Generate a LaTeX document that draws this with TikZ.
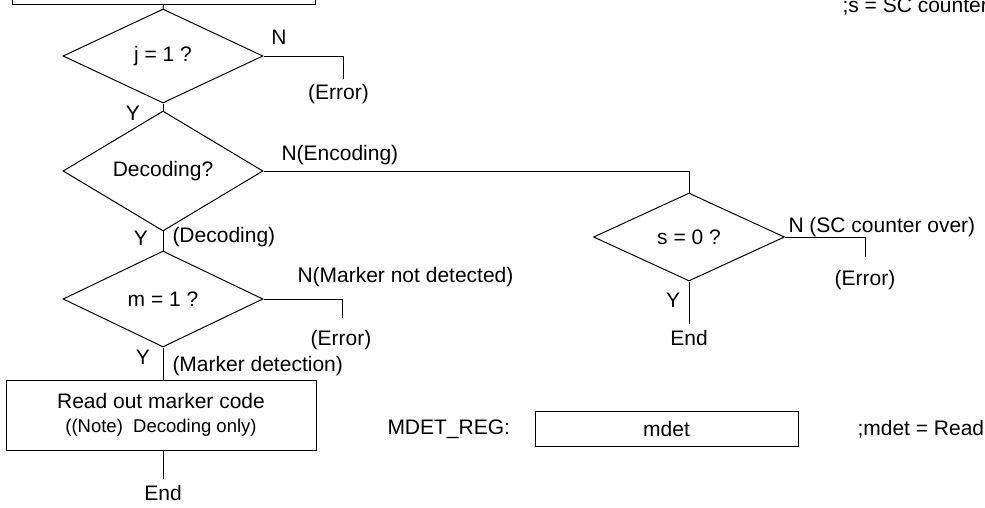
\documentclass[tikz,border=0pt]{standalone}
\usepackage{fontspec}
\setmainfont{Liberation Sans}
\usetikzlibrary{shapes.geometric}
\begin{document}
\begin{tikzpicture}[x=1pt,y=-1pt,line width=1pt,
  lbl/.style={font=\fontsize{21}{23}\selectfont,inner sep=0pt},
  dia/.style={diamond,draw,inner sep=0pt,minimum width=200pt,minimum height=95pt,font=\fontsize{21}{23}\selectfont},
  box/.style={draw,rectangle,inner sep=0pt,font=\fontsize{21}{23}\selectfont}]
\useasboundingbox (0,0) rectangle (985,507);
\clip (0,0) rectangle (985,507);
% top box (cut by top edge)
\node[box,minimum width=303pt,minimum height=40pt] (top) at (163.5,-16) {};
% j = 1 ?
\node[dia,minimum height=94pt] (j1) at (163,56) {j = 1 ?};
\node[lbl] (n1) at (279,37) {N};
\coordinate (e1) at (343,79);
\node[lbl] (err1) at (338.5,94) {(Error)};
\node[lbl] (y1) at (133,113) {Y};
% Decoding?
\node[dia,minimum height=96pt] (dec) at (163,171) {Decoding?};
\node[lbl,anchor=west] (n2) at (281,155) {N(Encoding)};
\node[lbl] (y2) at (141,238) {Y};
\node[lbl,anchor=west] (d2) at (172,237) {(Decoding)};
% m = 1 ?
\node[dia,minimum height=96pt] (m1) at (163,299) {m = 1 ?};
\node[lbl,anchor=west] (n3) at (297,277) {N(Marker not detected)};
\coordinate (e3) at (342,318);
\node[lbl] (err3) at (341,340) {(Error)};
\node[lbl] (y3) at (143,357) {Y};
\node[lbl,anchor=west] (md) at (172,366) {(Marker detection)};
% read out box
\node[box,minimum width=310pt,minimum height=70pt,align=center] (rb) at (161,415)
  {Read out marker code\\[1pt]{\fontsize{18.5}{20}\selectfont ((Note)\ \ Decoding only)}};
\node[lbl] (end1) at (163,493) {End};
% s = 0 ?
\node[dia,minimum width=191pt,minimum height=88pt] (s0) at (689,237) {s = 0 ?};
\node[lbl,anchor=west] (n4) at (788,227) {N (SC counter over)};
\coordinate (e4) at (865,257);
\node[lbl] (err4) at (865,280) {(Error)};
\node[lbl] (y4) at (673,300) {Y};
\node[lbl] (end2) at (689,338) {End};
% register
\node[lbl,anchor=west] (reg) at (387,429) {MDET\_REG:};
\node[box,minimum width=263pt,minimum height=35pt] (mdet) at (666.5,428.5) {mdet};
\node[lbl,anchor=west] (mnote) at (857,429) {;mdet = Read};
\node[lbl,anchor=base west] (snote) at (842,12) {;s = SC counter};
% connectors
\draw (top.south) -- (j1.north);
\draw (j1.east) -| (e1);
\draw (j1.south) -- (dec.north);
\draw (dec.east) -| (s0.north);
\draw (dec.south) -- (m1.north);
\draw (m1.east) -| (e3);
\draw (m1.south) -- (m1.south |- rb.north);
\draw (rb.south -| end1.north) -- ([yshift=6pt]end1.north);
\draw (s0.east) -| (e4);
\draw (s0.south) -- ([yshift=6pt]end2.north);
\end{tikzpicture}
\end{document}
